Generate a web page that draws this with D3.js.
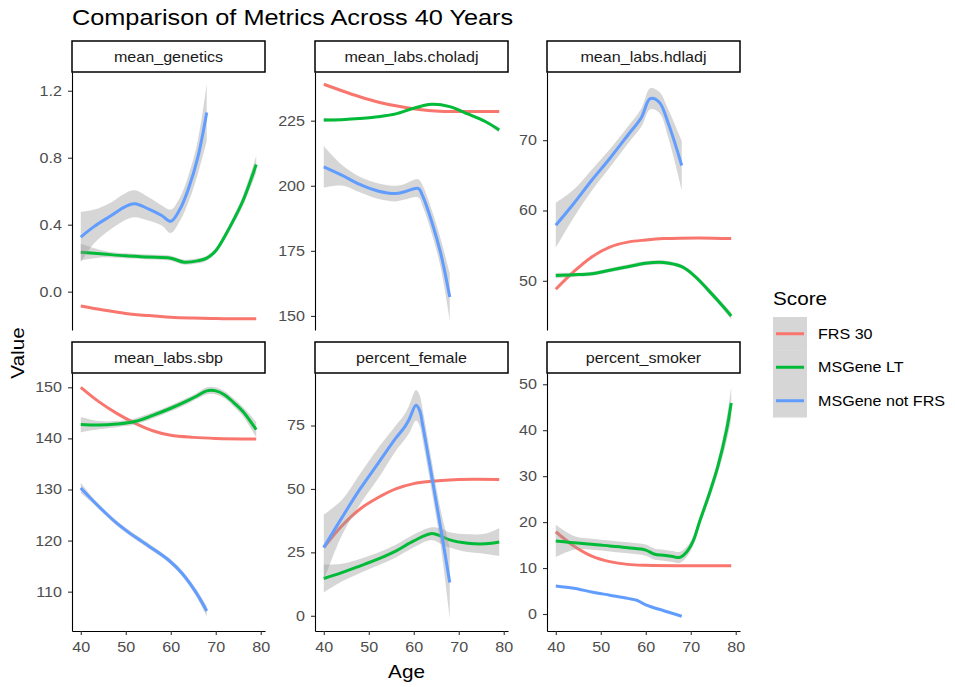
<!DOCTYPE html>
<html>
<head>
<meta charset="utf-8">
<script src="https://cdn.jsdelivr.net/npm/d3@7"></script>
<style>
body { margin: 0; background: #fff; }
text { font-family: "Liberation Sans", Arial, sans-serif; }
</style>
</head>
<body>
<div id="chart"></div>
<script>
// series names and colours (ggplot default hue)
const scoreNames = ["FRS 30", "MSGene LT", "MSGene not FRS"];
const scoreColors = ["#F8766D", "#00BA38", "#619CFF"];

const panelNames = ["mean_genetics", "mean_labs.choladj", "mean_labs.hdladj",
                    "mean_labs.sbp", "percent_female", "percent_smoker"];
const yTicks = [[0, 0.4, 0.8, 1.2], [150, 175, 200, 225], [50, 60, 70],
                [110, 120, 130, 140, 150], [0, 25, 50, 75], [0, 10, 20, 30, 40, 50]];
const yDomains = [[-0.229, 1.312], [144.6, 243.7], [43.0, 79.7],
                  [102.3, 152.8], [-6, 95.7], [-3.7, 52.45]];
const xTicks = [40, 50, 60, 70, 80];
const ageDomain = [40, 79];

// [age, smoothed value, half width of confidence band]
const geneticsFRS = [[40,-0.086],[45,-0.11],[50,-0.13],[55,-0.143],[60,-0.153],[65,-0.158],[70,-0.161],[75,-0.162],[79,-0.162]];
const geneticsLT = [[40,0.236,0.05],[45,0.225,0.02],[50,0.214,0.015],[55,0.207,0.015],[60,0.2,0.015],[63,0.176,0.015],[66,0.184,0.015],[68,0.2,0.015],[70,0.245,0.015],[72,0.33,0.02],[74,0.43,0.025],[76,0.54,0.03],[79,0.76,0.05]];
const geneticsNotFRS = [[40,0.326,0.15],[43,0.39,0.1],[46.5,0.45,0.08],[50,0.51,0.08],[52,0.525,0.08],[55,0.495,0.07],[58,0.455,0.06],[60,0.42,0.07],[62,0.49,0.07],[64,0.62,0.08],[66,0.8,0.1],[68,1.07,0.17]];

const choladjFRS = [[40,239],[44,236.5],[48,234.2],[52,232.2],[56,230.7],[60,229.6],[64,228.8],[68,228.5],[72,228.5],[79,228.5]];
const choladjLT = [[40,225.3,0.8],[44,225.4,0.4],[48,225.8,0.4],[52,226.5,0.4],[56,227.6,0.4],[60,229.8,0.5],[64,231.3,0.5],[68,230.4,0.5],[72,227.6,0.5],[76,224.6,0.6],[79,221.4,1]];
const choladjNotFRS = [[40,207.3,8],[44,204.1,4],[48,200.5,3],[52,198,3],[56,197,3],[58,197.7,3],[61,199,3.5],[62,196,4],[64,186.2,4.5],[66,174,5.5],[68,157.3,9]];

const hdladjFRS = [[40,48.8],[44,51.3],[48,53.4],[52,54.8],[56,55.5],[60,55.8],[64,56.0],[72,56.1],[79,56.0]];
const hdladjLT = [[40,50.75,0.4],[44,50.85,0.3],[48,51.0,0.3],[52,51.5,0.3],[56,52.0,0.3],[60,52.5,0.3],[64,52.6,0.3],[68,52.0,0.3],[71,50.6,0.3],[74,48.6,0.4],[77,46.5,0.4],[79,45.0,0.5]];
const hdladjNotFRS = [[40,57.9,3.2],[44,61,2],[48,64.3,1.5],[52,67.4,1.3],[56,70.7,1.2],[59,73.2,1.3],[61,75.9,1.5],[63,75.4,1.5],[65,72.4,2],[68,66.4,3.5]];

const sbpFRS = [[40,150],[44,147.2],[48,144.9],[52,143.0],[56,141.5],[60,140.6],[65,140.2],[70,140],[79,139.9]];
const sbpLT = [[40,142.7,1.5],[44,142.6,0.8],[48,142.8,0.6],[52,143.3,0.6],[56,144.5,0.6],[60,145.9,0.6],[64,147.5,0.6],[66,148.4,0.6],[68,149.3,0.7],[70,149.3,0.7],[72,148.5,0.7],[74,147,0.8],[76,145.3,0.9],[79,141.7,1.5]];
const sbpNotFRS = [[40,130.3,1],[42.5,128,0.6],[45.5,125.4,0.5],[48,123.4,0.5],[50.5,121.7,0.5],[55,119.0,0.5],[59.5,116.2,0.5],[62.5,113.6,0.6],[65.5,110.0,0.7],[68,106.2,1]];

const femaleFRS = [[40,26.9],[44,35.4],[48,42],[52,46.5],[56,50],[60,52.1],[64,53],[70,53.7],[79,53.7]];
const femaleLT = [[40,14.7,5.5],[44,17,3.5],[48,19.6,2.8],[52,22.3,2.5],[56,25.5,2.5],[60,29.5,2.5],[64,32.4,2.5],[66,31.4,3],[68,29.9,3],[72,28.6,3.5],[76,28.4,4],[79,29.1,5.5]];
const femaleNotFRS = [[40,26.9,13],[44,38.6,7],[48,49.8,6],[52,59.9,6],[56,70,5],[58,74.5,5],[59,77.5,5.5],[60.5,83,6],[61.3,81,6],[62,75,6],[64,55,6],[66,34.5,7],[68,13.1,14]];

const smokerFRS = [[40,17.9],[44,14.8],[48,12.6],[52,11.4],[56,10.8],[60,10.6],[70,10.5],[79,10.5]];
const smokerLT = [[40,15.9,3.5],[44,15.5,1.5],[48,15.2,1.2],[52,14.8,1.2],[56,14.4,1.2],[60,13.9,1.2],[62,13.0,1.2],[64,12.8,1.2],[66,12.5,1.2],[67.5,12.3,1.2],[69,13.4,1.1],[70.5,15.8,1],[72,20.2,1],[74,25.8,1.2],[76,32.0,1.5],[78,40.2,2.5],[79,45.9,3.5]];
const smokerNotFRS = [[40,6.1],[44,5.6],[48,4.8],[52,4.1],[56,3.4],[58,3.0],[60,2.0],[64,0.7],[68,-0.5]];

const panelSeries = [
	[geneticsFRS, geneticsLT, geneticsNotFRS],
	[choladjFRS, choladjLT, choladjNotFRS],
	[hdladjFRS, hdladjLT, hdladjNotFRS],
	[sbpFRS, sbpLT, sbpNotFRS],
	[femaleFRS, femaleLT, femaleNotFRS],
	[smokerFRS, smokerLT, smokerNotFRS]
];

// layout
const width = 955, height = 687;
const colX = [72, 315, 547];
const rowY = [72, 373];
const panelW = 193, panelH = 258, stripH = 31;
const SX = 1.15; // text in the reference is drawn a bit wide
const lineW = 3;
const ribbonFill = "#999999", ribbonOpacity = 0.4;

const svg = d3.select("#chart").append("svg")
	.attr("width", width)
	.attr("height", height);

function stretchText(sel){
	sel.each(function(){
		let t = d3.select(this);
		let x = +t.attr("x") || 0;
		let y = +t.attr("y") || 0;
		t.attr("x", null).attr("y", null)
			.attr("transform", `translate(${x},${y}) scale(${SX},1)`);
	});
}

function addText(parent, str, x, y, size, anchor, color){
	return parent.append("text")
		.attr("transform", `translate(${x},${y}) scale(${SX},1)`)
		.attr("text-anchor", anchor)
		.attr("font-size", size)
		.attr("fill", color)
		.text(str);
}

const curve = d3.curveCatmullRom.alpha(0.5);

panelNames.forEach((name, i) => {
	let col = i % 3, row = Math.floor(i / 3);
	let px = colX[col], py = rowY[row];

	let pad = (ageDomain[1] - ageDomain[0]) * 0.05;
	let xScale = d3.scaleLinear()
		.domain([ageDomain[0] - pad, ageDomain[1] + pad])
		.range([px, px + panelW]);
	let yScale = d3.scaleLinear()
		.domain(yDomains[i])
		.range([py + panelH, py]);

	let g = svg.append("g").attr("class", "panel");

	let line = d3.line()
		.x(d => xScale(d[0]))
		.y(d => yScale(d[1]))
		.curve(curve);
	let band = d3.area()
		.x(d => xScale(d[0]))
		.y0(d => yScale(d[1] - d[2]))
		.y1(d => yScale(d[1] + d[2]))
		.curve(curve);

	// each group: ribbon then line, like geom_smooth
	panelSeries[i].forEach((s, k) => {
		if(s[0].length > 2){
			g.append("path")
				.attr("d", band(s))
				.attr("fill", ribbonFill)
				.attr("fill-opacity", ribbonOpacity);
		}
		g.append("path")
			.attr("d", line(s))
			.attr("fill", "none")
			.attr("stroke", scoreColors[k])
			.attr("stroke-width", lineW)
			.attr("stroke-linecap", "butt");
	});

	// y axis
	let yAxis = g.append("g")
		.attr("transform", `translate(${px},0)`)
		.call(d3.axisLeft(yScale)
			.tickValues(yTicks[i])
			.tickFormat(i == 0 ? d3.format(".1f") : d3.format("d"))
			.tickSize(4)
			.tickSizeOuter(0)
			.tickPadding(6));
	yAxis.select(".domain").attr("stroke", "#000").attr("stroke-width", 1.1);
	yAxis.selectAll(".tick line").attr("stroke", "#333").attr("stroke-width", 1.1);
	yAxis.selectAll("text")
		.attr("font-size", 14)
		.attr("fill", "#4d4d4d")
		.attr("font-family", null)
		.call(stretchText);

	// x axis only on the bottom row
	if(row == 1){
		let xAxis = g.append("g")
			.attr("transform", `translate(0,${py + panelH})`)
			.call(d3.axisBottom(xScale)
				.tickValues(xTicks)
				.tickSize(4)
				.tickSizeOuter(0)
				.tickPadding(7));
		xAxis.select(".domain").attr("stroke", "#000").attr("stroke-width", 1.1);
		xAxis.selectAll(".tick line").attr("stroke", "#333").attr("stroke-width", 1.1);
		xAxis.selectAll("text")
			.attr("font-size", 14)
			.attr("fill", "#4d4d4d")
			.attr("font-family", null)
			.call(stretchText);
	}

	// strip
	g.append("rect")
		.attr("x", px)
		.attr("y", py - stripH)
		.attr("width", panelW)
		.attr("height", stripH)
		.attr("fill", "#fff")
		.attr("stroke", "#000")
		.attr("stroke-width", 1.5);
	addText(g, name, px + panelW / 2, py - stripH / 2 + 5, 14, "middle", "#1a1a1a");
});

// titles
addText(svg, "Comparison of Metrics Across 40 Years", 72, 25, 22, "start", "#000");
addText(svg, "Age", 406.5, 678, 18, "middle", "#000");
svg.append("text")
	.attr("transform", `translate(24,353) rotate(-90) scale(${SX},1)`)
	.attr("text-anchor", "middle")
	.attr("font-size", 18)
	.attr("fill", "#000")
	.text("Value");

// legend
let legend = svg.append("g").attr("class", "legend");
addText(legend, "Score", 773, 305, 18, "start", "#000");
let keyH = 33.5, keyW = 34, keyTop = 317;
scoreNames.forEach((name, k) => {
	let ky = keyTop + k * keyH;
	legend.append("rect")
		.attr("x", 773)
		.attr("y", ky)
		.attr("width", keyW)
		.attr("height", keyH)
		.attr("fill", ribbonFill)
		.attr("fill-opacity", ribbonOpacity);
	legend.append("line")
		.attr("x1", 776)
		.attr("x2", 804)
		.attr("y1", ky + keyH / 2)
		.attr("y2", ky + keyH / 2)
		.attr("stroke", scoreColors[k])
		.attr("stroke-width", lineW);
	addText(legend, name, 818, ky + keyH / 2 + 5, 14, "start", "#000");
});
</script>
</body>
</html>
